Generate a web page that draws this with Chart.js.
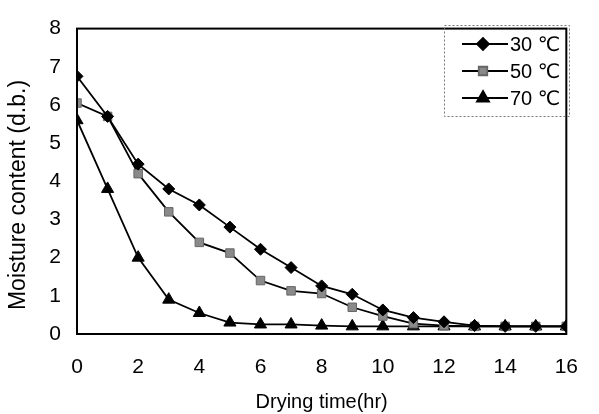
<!DOCTYPE html>
<html>
<head>
<meta charset="utf-8">
<script src="https://cdn.jsdelivr.net/npm/chart.js@4"></script>
<style>
  html, body { margin: 0; padding: 0; background: #fff; }
  #wrap { width: 599px; height: 414px; }
</style>
</head>
<body>
<div id="wrap"><canvas id="chart" width="599" height="414"></canvas></div>
<script>
// Drying time (hr)
const hours = [0, 1, 2, 3, 4, 5, 6, 7, 8, 9, 10, 11, 12, 13, 14, 15, 16];

// Moisture content (d.b.) per temperature
const mc30 = [6.75, 5.7, 4.45, 3.8, 3.38, 2.8, 2.22, 1.74, 1.26, 1.04, 0.63, 0.43, 0.32, 0.22, 0.2, 0.2, 0.2];
const mc50 = [6.05, 5.7, 4.2, 3.2, 2.4, 2.12, 1.4, 1.13, 1.06, 0.7, 0.47, 0.27, 0.22, 0.2, 0.2, 0.2, 0.2];
const mc70 = [5.6, 3.8, 2.0, 0.9, 0.55, 0.3, 0.25, 0.25, 0.22, 0.2, 0.2, 0.2, 0.2, 0.2, 0.2, 0.2, 0.2];

const seriesLabels = ["30 \u2103", "50 \u2103", "70 \u2103"];
const yTitle = "Moisture content (d.b.)";
const xTitle = "Drying time(hr)";

const FONT = "'Liberation Sans', 'DejaVu Sans', Arial, sans-serif";

function toPoints(ys) {
  return hours.map((h, i) => ({ x: h, y: ys[i] }));
}

// box round the plot area, and the y title (sits lower than the plot centre)
const frame = {
  id: "frame",
  afterDraw(chart) {
    const a = chart.chartArea;
    const ctx = chart.ctx;
    ctx.save();
    ctx.strokeStyle = "#000";
    ctx.lineWidth = 2;
    ctx.strokeRect(a.left, a.top, a.right - a.left, a.bottom - a.top);

    ctx.translate(19, 195);
    ctx.rotate(-Math.PI / 2);
    ctx.fillStyle = "#000";
    ctx.font = "23px " + FONT;
    ctx.textAlign = "center";
    ctx.textBaseline = "middle";
    ctx.fillText(yTitle, 0, 0);
    ctx.restore();
  }
};

// legend with line + marker, like the spreadsheet one
const lineLegend = {
  id: "lineLegend",
  afterDraw(chart) {
    const ctx = chart.ctx;
    const x0 = 444, y0 = 25, w = 125, h = 91;
    ctx.save();
    ctx.strokeStyle = "#777";
    ctx.lineWidth = 1;
    ctx.setLineDash([2, 2]);
    ctx.strokeRect(x0 + 0.5, y0 + 0.5, w, h);
    ctx.setLineDash([]);
    chart.data.datasets.forEach((ds, i) => {
      const y = y0 + 19 + i * 27;
      ctx.strokeStyle = "#000";
      ctx.lineWidth = 1.8;
      ctx.beginPath();
      ctx.moveTo(462, y);
      ctx.lineTo(508, y);
      ctx.stroke();
      ctx.fillStyle = ds.pointBackgroundColor;
      ctx.strokeStyle = ds.pointBorderColor;
      Chart.helpers.drawPoint(ctx, {
        pointStyle: ds.pointStyle,
        radius: ds.pointRadius,
        borderWidth: 1
      }, 483, y);
      ctx.fillStyle = "#000";
      ctx.font = "20px " + FONT;
      ctx.textBaseline = "middle";
      ctx.textAlign = "left";
      ctx.fillText(ds.label, 510, y + 1);
    });
    ctx.restore();
  }
};

function makeSet(label, ys, style, radius, fill) {
  return {
    label: label,
    data: toPoints(ys),
    borderColor: "#000",
    borderWidth: 1.8,
    pointStyle: style,
    pointRadius: radius,
    pointHoverRadius: radius,
    pointBackgroundColor: fill,
    pointBorderColor: fill === "#000" ? "#000" : "#666",
    pointBorderWidth: 1,
    tension: 0,
    fill: false
  };
}

new Chart(document.getElementById("chart"), {
  type: "line",
  data: {
    datasets: [
      makeSet(seriesLabels[0], mc30, "rectRot", 6, "#000"),
      makeSet(seriesLabels[1], mc50, "rect", 6, "#8a8a8a"),
      makeSet(seriesLabels[2], mc70, "triangle", 7, "#000")
    ]
  },
  plugins: [frame, lineLegend],
  options: {
    responsive: false,
    animation: false,
    layout: { padding: { top: 17, right: 15, left: 0, bottom: 0 } },
    plugins: {
      legend: { display: false },
      tooltip: { enabled: false }
    },
    scales: {
      x: {
        type: "linear",
        min: 0,
        max: 16,
        ticks: {
          stepSize: 2,
          color: "#000",
          padding: 21,
          font: { family: FONT, size: 21 }
        },
        grid: { display: false, drawTicks: false },
        border: { display: false },
        title: {
          display: true,
          text: xTitle,
          color: "#000",
          font: { family: FONT, size: 20 },
          padding: { top: 5, bottom: 0 }
        },
        afterFit(scale) { scale.height = 80; }
      },
      y: {
        min: 0,
        max: 8,
        ticks: {
          stepSize: 1,
          color: "#000",
          padding: 16,
          font: { family: FONT, size: 21 }
        },
        grid: { display: false, drawTicks: false },
        border: { display: false },
        afterFit(scale) { scale.width = 77; }
      }
    }
  }
});
</script>
</body>
</html>
